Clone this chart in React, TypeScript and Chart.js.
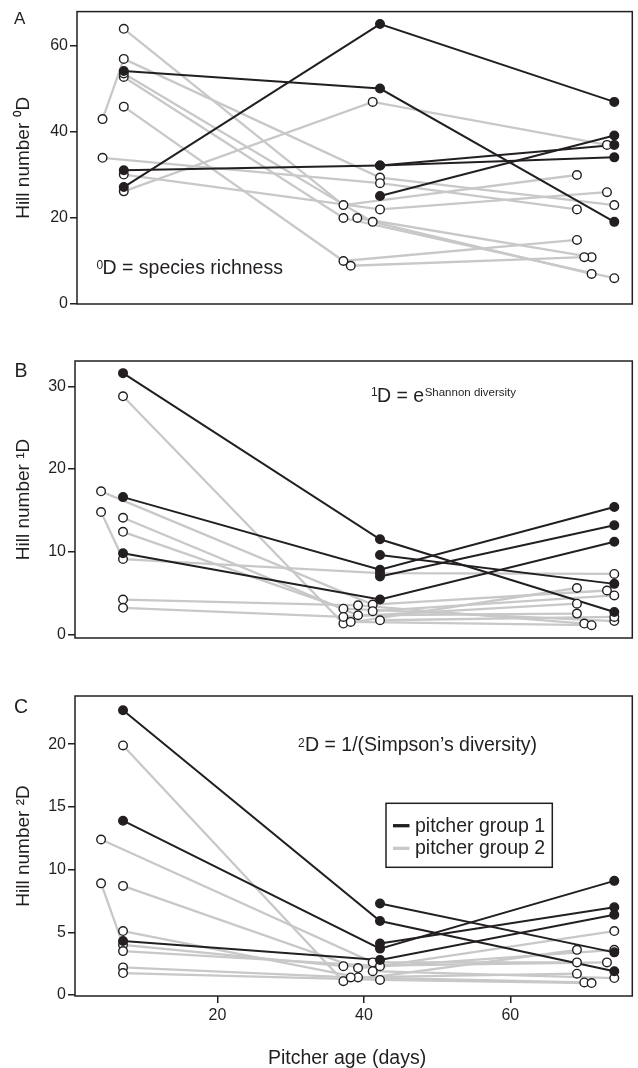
import React, { useEffect, useRef } from "react";
import { Chart, registerables } from "chart.js";

Chart.register(...registerables);

type Pt = [number, number]; // [pitcher age in days, Hill number]

// ---------- tick labels ----------
const DAY_TICKS = [20, 40, 60];
const RICHNESS_TICKS = [0, 20, 40, 60];
const SHANNON_TICKS = [0, 10, 20, 30];
const SIMPSON_TICKS = [0, 5, 10, 15, 20];

// ---------- series: one inner list per pitcher ----------
// Panel A: 0D = species richness
const RICHNESS_GROUP1: Pt[][] = [
  [[7.2, 27.2], [42.2, 65.1], [74.2, 47.0]],
  [[7.2, 54.2], [42.2, 50.1], [74.2, 19.1]],
  [[7.2, 31.1], [42.2, 32.2], [74.2, 34.1]],
  [[42.2, 32.2], [74.2, 37.0]],
  [[42.2, 25.1], [74.2, 39.2]],
];
const RICHNESS_GROUP2: Pt[][] = [
  [[4.3, 43.0], [7.2, 57.0], [42.2, 29.4], [74.2, 23.0]],
  [[4.3, 34.0], [42.2, 28.1], [69.1, 22.0]],
  [[7.2, 64.0], [37.2, 23.0], [69.1, 30.0]],
  [[7.2, 52.8], [37.2, 20.0], [74.2, 6.0]],
  [[7.2, 53.6], [41.2, 19.1], [71.1, 7.0]],
  [[7.2, 45.9], [37.2, 10.0], [69.1, 14.9]],
  [[7.2, 30.1], [42.2, 22.0], [73.2, 26.0]],
  [[7.2, 26.2], [41.2, 47.0], [73.2, 37.0]],
  [[39.1, 20.0], [71.1, 10.9]],
  [[38.2, 8.9], [70.1, 10.9]],
];

// Panel B: 1D = exp(Shannon diversity)
const SHANNON_GROUP1: Pt[][] = [
  [[7.1, 31.6], [42.2, 11.5], [74.2, 2.7]],
  [[7.1, 16.6], [42.2, 7.8], [74.2, 15.4]],
  [[7.1, 9.8], [42.2, 4.2], [74.2, 11.2]],
  [[42.2, 7.0], [74.2, 13.2]],
  [[42.2, 9.6], [74.2, 6.1]],
];
const SHANNON_GROUP2: Pt[][] = [
  [[4.1, 14.8], [7.1, 9.1], [42.2, 7.4], [74.2, 7.3]],
  [[4.1, 17.3], [41.2, 3.6], [73.2, 5.3]],
  [[7.1, 28.8], [37.2, 1.3], [69.1, 5.6]],
  [[7.1, 14.1], [39.2, 2.3], [69.1, 2.5]],
  [[7.1, 12.4], [37.2, 3.1], [74.2, 1.6]],
  [[7.1, 4.2], [39.2, 3.5], [70.1, 1.3]],
  [[7.1, 3.2], [37.2, 2.1], [69.1, 3.7]],
  [[38.2, 1.5], [71.1, 1.1]],
  [[42.2, 1.7], [74.2, 2.1]],
  [[41.2, 2.8], [74.2, 4.7]],
];

// Panel C: 2D = 1/(Simpson's diversity)
const SIMPSON_GROUP1: Pt[][] = [
  [[7.1, 22.7], [42.2, 5.9], [74.2, 1.9]],
  [[7.1, 13.9], [42.2, 3.7], [74.2, 9.1]],
  [[7.1, 4.3], [42.2, 2.8], [74.2, 6.4]],
  [[42.2, 7.3], [74.2, 3.4]],
  [[42.2, 4.1], [74.2, 7.0]],
];
const SIMPSON_GROUP2: Pt[][] = [
  [[4.1, 8.9], [7.1, 4.0], [37.2, 2.3], [73.2, 2.6]],
  [[4.1, 12.4], [41.2, 2.6], [69.1, 2.6]],
  [[7.1, 19.9], [37.2, 1.1], [69.1, 3.6]],
  [[7.1, 8.7], [39.2, 2.15], [74.2, 3.6]],
  [[7.1, 5.1], [39.2, 1.4], [70.1, 1.0]],
  [[7.1, 3.5], [42.2, 2.3], [74.2, 5.1]],
  [[7.1, 2.2], [38.2, 1.4], [69.1, 1.7]],
  [[7.1, 1.75], [42.2, 1.2], [71.1, 0.95]],
  [[41.2, 1.9], [74.2, 1.35]],
];

const LEGEND_LABELS = ["pitcher group 1", "pitcher group 2"];
const X_TITLE = "Pitcher age (days)";

// ---------- styling / layout ----------
const INK = "#231f20";
const GREY = "#c8c8c8";
const FONT = "'Liberation Sans', Arial, Helvetica, sans-serif";
const PAGE_W = 638;

type Decorate = (ctx: CanvasRenderingContext2D, dy: number) => void;

interface PanelSpec {
  id: string;
  canvasTop: number;
  canvasHeight: number;
  areaLeft: number;
  areaTop: number;
  areaBottom: number;
  areaRight: number;
  xMin: number;
  xMax: number;
  yMin: number;
  yMax: number;
  yTicks: number[];
  yTitle: string;
  group1: Pt[][];
  group2: Pt[][];
  showX: boolean;
  decorate: Decorate;
}

function supText(
  ctx: CanvasRenderingContext2D,
  dy: number,
  parts: { t: string; size: number; base: number }[],
  x0: number
) {
  let x = x0;
  ctx.textAlign = "left";
  ctx.textBaseline = "alphabetic";
  for (const p of parts) {
    ctx.font = `${p.size}px ${FONT}`;
    ctx.fillText(p.t, x, p.base - dy);
    x += ctx.measureText(p.t).width + 0.5;
  }
}

const PANELS: PanelSpec[] = [
  {
    id: "A",
    canvasTop: 0,
    canvasHeight: 340,
    areaLeft: 77,
    areaTop: 9,
    areaBottom: 322,
    areaRight: 637,
    xMin: 0.81,
    xMax: 76.66,
    yMin: 0,
    yMax: 68,
    yTicks: RICHNESS_TICKS,
    yTitle: "Hill number \u2070D",
    group1: RICHNESS_GROUP1,
    group2: RICHNESS_GROUP2,
    showX: false,
    decorate: (ctx, dy) => {
      ctx.fillStyle = INK;
      ctx.font = `17px ${FONT}`;
      ctx.textAlign = "left";
      ctx.textBaseline = "alphabetic";
      ctx.fillText("A", 14, 23.5 - dy);
      supText(ctx, dy, [{ t: "0", size: 12, base: 268.5 }], 96.5);
      supText(ctx, dy, [{ t: "D = species richness", size: 19.5, base: 274 }], 102.5);
    },
  },
  {
    id: "B",
    canvasTop: 340,
    canvasHeight: 340,
    areaLeft: 75,
    areaTop: 361,
    areaBottom: 659,
    areaRight: 637,
    xMin: 0.54,
    xMax: 76.66,
    yMin: -0.45,
    yMax: 33.07,
    yTicks: SHANNON_TICKS,
    yTitle: "Hill number \u00B9D",
    group1: SHANNON_GROUP1,
    group2: SHANNON_GROUP2,
    showX: false,
    decorate: (ctx, dy) => {
      ctx.fillStyle = INK;
      ctx.font = `19.5px ${FONT}`;
      ctx.textAlign = "left";
      ctx.textBaseline = "alphabetic";
      ctx.fillText("B", 14.5, 377.3 - dy);
      supText(ctx, dy, [{ t: "1", size: 12, base: 395.7 }], 371);
      supText(
        ctx,
        dy,
        [
          { t: "D = e", size: 19.5, base: 401.7 },
          { t: "Shannon diversity", size: 11.5, base: 395.5 },
        ],
        377
      );
    },
  },
  {
    id: "C",
    canvasTop: 680,
    canvasHeight: 388,
    areaLeft: 75,
    areaTop: 696,
    areaBottom: 996,
    areaRight: 637,
    xMin: 0.54,
    xMax: 76.66,
    yMin: -0.08,
    yMax: 23.84,
    yTicks: SIMPSON_TICKS,
    yTitle: "Hill number \u00B2D",
    group1: SIMPSON_GROUP1,
    group2: SIMPSON_GROUP2,
    showX: true,
    decorate: (ctx, dy) => {
      ctx.fillStyle = INK;
      ctx.font = `19.5px ${FONT}`;
      ctx.textAlign = "left";
      ctx.textBaseline = "alphabetic";
      ctx.fillText("C", 14, 713 - dy);
      supText(ctx, dy, [{ t: "2", size: 12, base: 746.5 }], 298);
      supText(ctx, dy, [{ t: "D = 1/(Simpson\u2019s diversity)", size: 19.5, base: 751.2 }], 305);

      // legend
      ctx.fillStyle = "#ffffff";
      ctx.fillRect(386, 803.3 - dy, 166.3, 64);
      ctx.strokeStyle = INK;
      ctx.lineWidth = 1.5;
      ctx.strokeRect(386, 803.3 - dy, 166.3, 64);
      const rows = [
        { color: INK, y: 825.7 },
        { color: GREY, y: 848.3 },
      ];
      rows.forEach((r, i) => {
        ctx.strokeStyle = r.color;
        ctx.lineWidth = 3.3;
        ctx.beginPath();
        ctx.moveTo(393, r.y - dy);
        ctx.lineTo(409.5, r.y - dy);
        ctx.stroke();
        ctx.fillStyle = INK;
        ctx.font = `19.5px ${FONT}`;
        ctx.textAlign = "left";
        ctx.textBaseline = "middle";
        ctx.fillText(LEGEND_LABELS[i], 415, r.y + 0.5 - dy);
      });

      // x axis title
      ctx.fillStyle = INK;
      ctx.font = `19.5px ${FONT}`;
      ctx.textAlign = "center";
      ctx.textBaseline = "alphabetic";
      ctx.fillText(X_TITLE, 347, 1064 - dy);
    },
  },
];

const toXY = (pts: Pt[]) => pts.map(([x, y]) => ({ x, y }));

function PanelChart({ spec }: { spec: PanelSpec }) {
  const ref = useRef<HTMLCanvasElement | null>(null);

  useEffect(() => {
    const canvas = ref.current;
    if (!canvas) return;

    const datasets: any[] = [];
    spec.group2.forEach((p) =>
      datasets.push({
        data: toXY(p),
        showLine: true,
        borderColor: GREY,
        borderWidth: 2.3,
        pointRadius: 0,
        pointHoverRadius: 0,
        fill: false,
        order: 5,
      })
    );
    spec.group1.forEach((p) =>
      datasets.push({
        data: toXY(p),
        showLine: true,
        borderColor: INK,
        borderWidth: 2,
        pointRadius: 0,
        pointHoverRadius: 0,
        fill: false,
        order: 4,
      })
    );
    datasets.push({
      data: toXY(spec.group2.flat()),
      showLine: false,
      pointRadius: 4.3,
      pointBorderWidth: 1.4,
      pointBorderColor: INK,
      pointBackgroundColor: "#ffffff",
      order: 3,
    });
    datasets.push({
      data: toXY(spec.group1.flat()),
      showLine: false,
      pointRadius: 4.3,
      pointBorderWidth: 1.4,
      pointBorderColor: INK,
      pointBackgroundColor: INK,
      order: 2,
    });

    const xAxisHeight = spec.canvasTop + spec.canvasHeight - spec.areaBottom;

    const decoPlugin = {
      id: "frameAndText" + spec.id,
      afterDraw(chart: any) {
        const { ctx, chartArea: a } = chart;
        ctx.save();
        ctx.strokeStyle = INK;
        ctx.lineWidth = 1.5;
        ctx.strokeRect(a.left, a.top, a.right - a.left, a.bottom - a.top);
        spec.decorate(ctx, spec.canvasTop);
        ctx.restore();
      },
    };

    const tickGrid = {
      display: true,
      drawOnChartArea: false,
      drawTicks: true,
      tickLength: 7,
      color: INK,
      lineWidth: 1.5,
    };

    const chart = new Chart(canvas, {
      type: "scatter",
      data: { datasets },
      options: {
        responsive: false,
        animation: false,
        devicePixelRatio: 1,
        events: [],
        layout: {
          padding: {
            top: spec.areaTop - spec.canvasTop,
            bottom: spec.showX ? 0 : xAxisHeight,
            left: 0,
            right: PAGE_W - spec.areaRight,
          },
        },
        plugins: {
          legend: { display: false },
          tooltip: { enabled: false },
        },
        scales: {
          x: {
            type: "linear",
            display: spec.showX,
            min: spec.xMin,
            max: spec.xMax,
            afterFit: (s: any) => {
              s.height = xAxisHeight;
            },
            afterBuildTicks: (s: any) => {
              s.ticks = DAY_TICKS.map((v) => ({ value: v }));
            },
            ticks: {
              font: { family: FONT, size: 16 },
              color: INK,
              padding: 3.4,
              maxRotation: 0,
              autoSkip: false,
            },
            grid: tickGrid,
            border: { display: false },
          },
          y: {
            type: "linear",
            min: spec.yMin,
            max: spec.yMax,
            afterFit: (s: any) => {
              s.width = spec.areaLeft;
            },
            afterBuildTicks: (s: any) => {
              s.ticks = spec.yTicks.map((v) => ({ value: v }));
            },
            ticks: {
              font: { family: FONT, size: 16 },
              color: INK,
              padding: 2,
              autoSkip: false,
            },
            grid: tickGrid,
            border: { display: false },
            title: {
              display: true,
              text: spec.yTitle,
              color: INK,
              font: { family: FONT, size: 19 },
              padding: { top: 12.6, bottom: 0 },
            },
          },
        },
      } as any,
      plugins: [decoPlugin],
    });

    return () => chart.destroy();
  }, [spec]);

  return (
    <canvas
      ref={ref}
      width={PAGE_W}
      height={spec.canvasHeight}
      style={{
        position: "absolute",
        left: 0,
        top: spec.canvasTop,
        width: PAGE_W,
        height: spec.canvasHeight,
        display: "block",
      }}
    />
  );
}

export default function App() {
  return (
    <div
      style={{
        position: "absolute",
        left: 0,
        top: 0,
        width: PAGE_W,
        height: 1068,
        background: "#ffffff",
        overflow: "hidden",
      }}
    >
      {PANELS.map((p) => (
        <PanelChart key={p.id} spec={p} />
      ))}
    </div>
  );
}
